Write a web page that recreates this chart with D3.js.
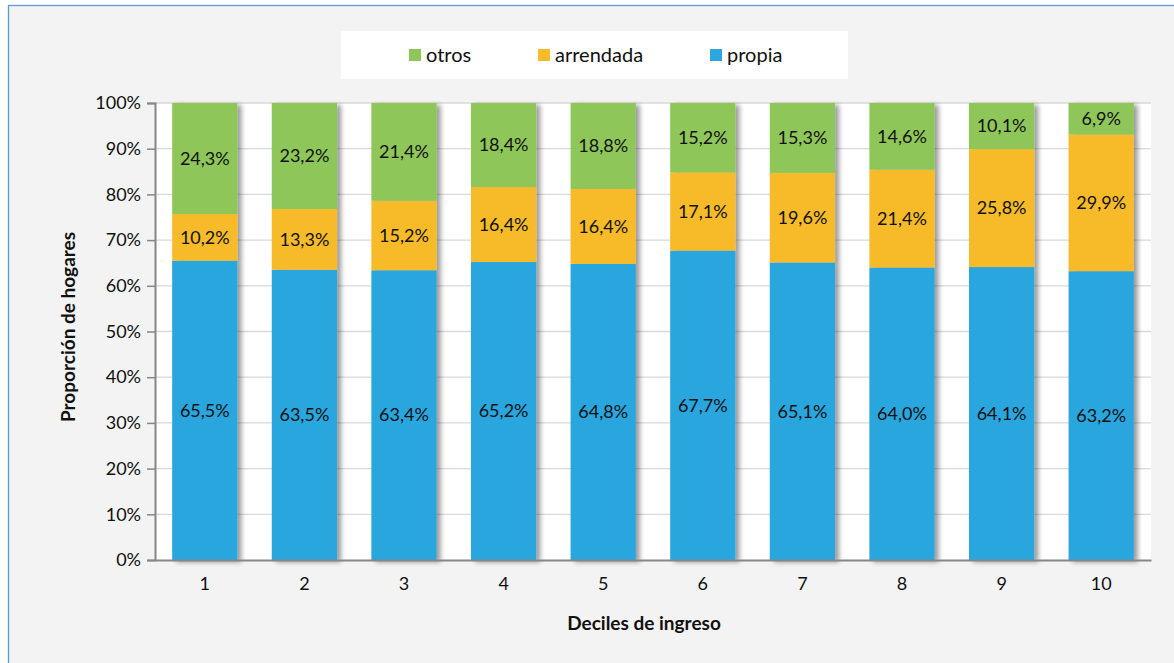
<!doctype html>
<html lang="es">
  <head>
    <meta charset="UTF-8" />
    <title>Tenencia de vivienda por decil</title>
    <script src="https://d3js.org/d3.v7.min.js"></script>
    <style>
      body,
      html {
        margin: 0;
        padding: 0;
        background: #ffffff;
        overflow: hidden;
      }
      svg {
        display: block;
        font-family: Lato, "Open Sans", sans-serif;
      }
    </style>
  </head>
  <body>
    <svg id="chart" width="1174" height="663"></svg>
    <script>
      // data
      const deciles = ["1", "2", "3", "4", "5", "6", "7", "8", "9", "10"];
      const propia = [65.5, 63.5, 63.4, 65.2, 64.8, 67.7, 65.1, 64.0, 64.1, 63.2];
      const arrendada = [10.2, 13.3, 15.2, 16.4, 16.4, 17.1, 19.6, 21.4, 25.8, 29.9];
      const otros = [24.3, 23.2, 21.4, 18.4, 18.8, 15.2, 15.3, 14.6, 10.1, 6.9];
      const yTicks = [0, 10, 20, 30, 40, 50, 60, 70, 80, 90, 100];

      const seriesNames = ["propia", "arrendada", "otros"];
      const colors = { propia: "#2ca6de", arrendada: "#f7bb2a", otros: "#8fc65a" };
      const legendOrder = ["otros", "arrendada", "propia"];

      const svg = d3.select("#chart");
      const margin = { left: 155, right: 1151, top: 103, bottom: 560 };
      const fontSize = 18;

      // background and frame
      svg.append("rect")
        .attr("width", 1174).attr("height", 663).attr("fill", "#ffffff");
      svg.append("rect")
        .attr("x", 8.5).attr("y", 5.5)
        .attr("width", 1180).attr("height", 680)
        .attr("fill", "#f2f3f2")
        .attr("stroke", "#5b9bd5").attr("stroke-width", 1.3);

      const defs = svg.append("defs");
      const shadow = defs.append("filter").attr("id", "shadow")
        .attr("x", "-20%").attr("y", "-5%").attr("width", "150%").attr("height", "110%");
      shadow.append("feGaussianBlur").attr("in", "SourceAlpha").attr("stdDeviation", 2.5);
      shadow.append("feOffset").attr("dx", 4).attr("dy", 2).attr("result", "off");
      shadow.append("feComponentTransfer").append("feFuncA").attr("type", "linear").attr("slope", 0.4);
      const merge = shadow.append("feMerge");
      merge.append("feMergeNode");
      merge.append("feMergeNode").attr("in", "SourceGraphic");

      // plot area
      svg.append("rect")
        .attr("x", margin.left).attr("y", margin.top)
        .attr("width", margin.right - margin.left)
        .attr("height", margin.bottom - margin.top)
        .attr("fill", "#ffffff");

      const x = d3.scaleBand().domain(deciles)
        .range([margin.left, margin.right]).paddingInner(0.345).paddingOuter(0.1725);
      const y = d3.scaleLinear().domain([0, 100]).range([margin.bottom, margin.top]);

      // gridlines
      svg.append("g")
        .selectAll("line")
        .data(yTicks.filter((t) => t > 0))
        .join("line")
        .attr("x1", margin.left).attr("x2", margin.right)
        .attr("y1", (d) => y(d)).attr("y2", (d) => y(d))
        .attr("stroke", "#d9d9d9").attr("stroke-width", 1.3);

      // stacked bars
      const rows = deciles.map((d, i) => ({
        decil: d,
        propia: propia[i],
        arrendada: arrendada[i],
        otros: otros[i]
      }));
      const stacked = d3.stack().keys(seriesNames)(rows);

      const barsG = svg.append("g").attr("filter", "url(#shadow)");
      stacked.forEach((layer) => {
        barsG.append("g")
          .selectAll("rect")
          .data(layer)
          .join("rect")
          .attr("x", (d) => x(d.data.decil))
          .attr("width", x.bandwidth())
          .attr("y", (d) => y(d[1]))
          .attr("height", (d) => y(d[0]) - y(d[1]))
          .attr("fill", colors[layer.key]);
      });

      // value labels
      const fmt = (v) => v.toFixed(1).replace(".", ",") + "%";
      stacked.forEach((layer) => {
        svg.append("g")
          .selectAll("text")
          .data(layer)
          .join("text")
          .attr("x", (d) => x(d.data.decil) + x.bandwidth() / 2)
          .attr("y", (d) => y((d[0] + d[1]) / 2))
          .attr("dy", "0.35em")
          .attr("text-anchor", "middle")
          .attr("font-size", fontSize)
          .attr("fill", "#111")
          .text((d) => fmt(d[1] - d[0]));
      });

      // y axis
      const yAxis = svg.append("g")
        .attr("transform", `translate(${margin.left},0)`)
        .call(d3.axisLeft(y).tickValues(yTicks).tickSize(8).tickPadding(6).tickFormat((d) => d + "%"));
      yAxis.select(".domain").attr("stroke", "#868686").attr("stroke-width", 2);
      yAxis.selectAll(".tick line").attr("stroke", "#868686").attr("stroke-width", 1.5);
      yAxis.selectAll("text").attr("font-size", fontSize).attr("fill", "#111")
        .attr("font-family", "Lato, 'Open Sans', sans-serif");

      // x axis
      const xAxis = svg.append("g")
        .attr("transform", `translate(0,${margin.bottom})`)
        .call(d3.axisBottom(x).tickSize(0).tickPadding(17));
      xAxis.select(".domain").attr("stroke", "#868686").attr("stroke-width", 2);
      xAxis.selectAll("text").attr("font-size", fontSize).attr("fill", "#111")
        .attr("font-family", "Lato, 'Open Sans', sans-serif");

      // axis titles
      svg.append("text")
        .attr("x", (margin.left + margin.right) / 2 - 9)
        .attr("y", 630)
        .attr("text-anchor", "middle")
        .attr("font-size", 19).attr("font-weight", "bold").attr("fill", "#111")
        .text("Deciles de ingreso");
      svg.append("text")
        .attr("transform", `translate(75,327) rotate(-90)`)
        .attr("text-anchor", "middle")
        .attr("font-size", 19).attr("font-weight", "bold").attr("fill", "#111")
        .text("Proporción de hogares");

      // legend
      svg.append("rect")
        .attr("x", 341).attr("y", 31).attr("width", 507).attr("height", 48)
        .attr("fill", "#ffffff");
      const legendX = [409, 538, 710];
      const legend = svg.append("g")
        .selectAll("g")
        .data(legendOrder)
        .join("g")
        .attr("transform", (d, i) => `translate(${legendX[i]},55)`);
      legend.append("rect")
        .attr("x", 0).attr("y", -6).attr("width", 12).attr("height", 12)
        .attr("fill", (d) => colors[d]);
      legend.append("text")
        .attr("x", 17).attr("dy", "0.35em")
        .attr("font-size", 20).attr("fill", "#111")
        .text((d) => d);
    </script>
  </body>
</html>
